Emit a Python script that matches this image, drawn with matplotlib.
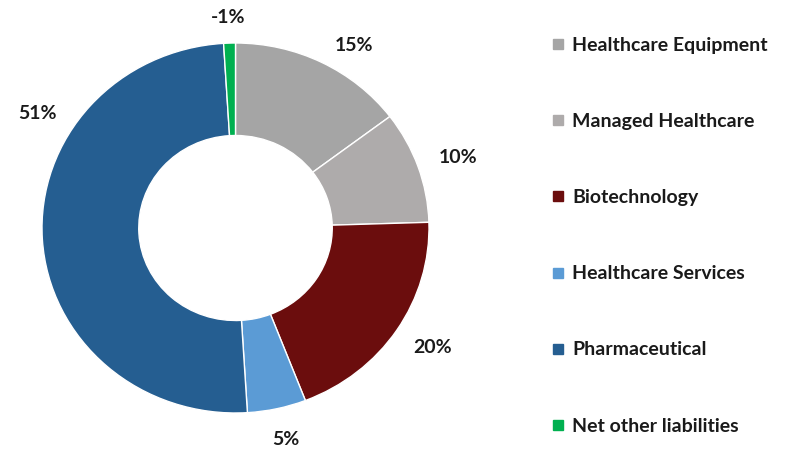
import numpy as np
import matplotlib.pyplot as plt
from matplotlib.lines import Line2D

# données du graphique (répartition sectorielle, en %)
secteurs = ["Healthcare Equipment", "Managed Healthcare", "Biotechnology",
            "Healthcare Services", "Pharmaceutical", "Net other liabilities"]
valeurs = [15, 10, 20, 5, 51, -1]
couleurs = ["#A5A5A5", "#AEABAB", "#6B0D0D", "#5B9BD5", "#255E91", "#00B050"]

# certains labels ne sont pas au milieu de leur tranche dans l'original
angle_label = {"Healthcare Equipment": 60, "Pharmaceutical": 147}

plt.rcParams['font.family'] = ['Lato', 'DejaVu Sans']

fig = plt.figure(figsize=(8, 4.51), dpi=100)
ax = fig.add_axes([42/800, 38/451, 387/800, 370/451])

tailles = [abs(v) for v in valeurs]
wedges, _ = ax.pie(tailles, colors=couleurs, startangle=90, counterclock=False,
                   radius=1, wedgeprops=dict(width=0.5, edgecolor="white", linewidth=1))
ax.set_aspect('auto')
ax.set_xlim(-1, 1)
ax.set_ylim(-1, 1)

# étiquettes de pourcentage à l'extérieur
for w, nom, v in zip(wedges, secteurs, valeurs):
    theta = np.deg2rad(angle_label.get(nom, (w.theta1 + w.theta2) / 2))
    rx, ry = 1.22, 1.14
    if np.sin(theta) < 0:
        ry = 1.17
    ax.text(rx * np.cos(theta), ry * np.sin(theta), f"{v}%", ha="center", va="center",
            fontsize=14, fontweight="bold", color="#1a1a1a", clip_on=False)

# légende
handles = [Line2D([], [], marker='s', ls='', color=c, markersize=7.5) for c in couleurs]
leg = fig.legend(handles, secteurs, loc="upper left", bbox_to_anchor=(550/800, 1 - 37/451),
                 frameon=False, fontsize=14, handlelength=0.8, handletextpad=0.35,
                 labelspacing=3.04, borderpad=0, borderaxespad=0)
for t in leg.get_texts():
    t.set_fontweight("bold")
    t.set_color("#1a1a1a")

fig.savefig("out.png", dpi=100)
